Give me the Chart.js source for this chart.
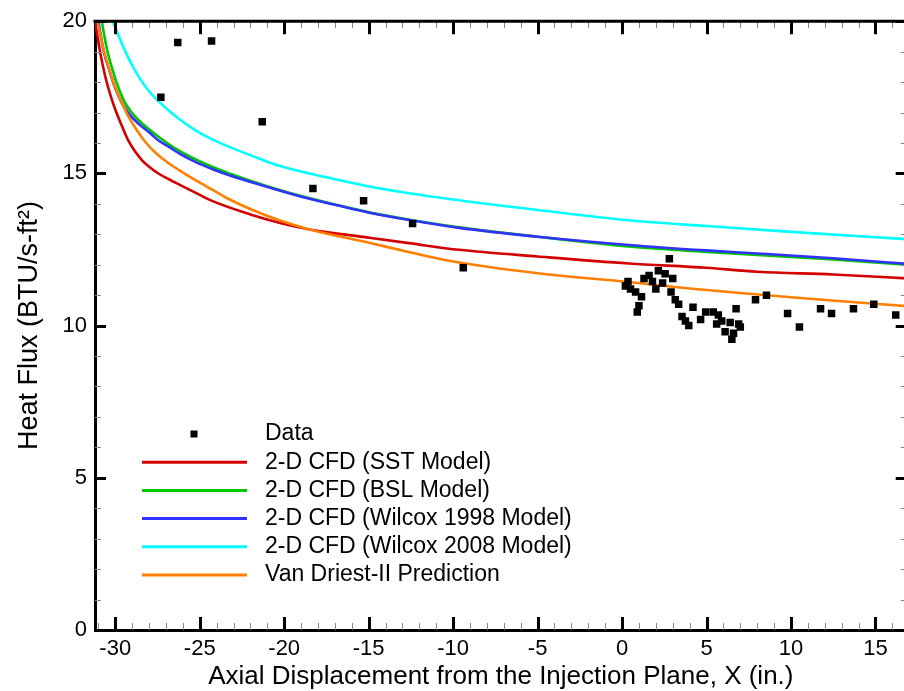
<!DOCTYPE html>
<html>
<head>
<meta charset="utf-8">
<script src="https://cdn.jsdelivr.net/npm/chart.js@4.4.1/dist/chart.umd.min.js"></script>
<style>
  html, body { margin: 0; padding: 0; overflow: hidden; background: #fff; }
  #wrap { position: relative; width: 912px; height: 691px; }
</style>
</head>
<body>
<div id="wrap"><canvas id="c"></canvas></div>
<script>
// ---- Data ----
const dataX = [-27.3,-26.3,-24.3,-21.3,-18.3,-15.3,-12.4,-9.4,
  0.2,0.35,0.5,0.8,0.9,1.0,1.15,1.3,1.6,1.8,
  2.0,2.15,2.4,2.55,2.8,2.9,3.0,3.15,3.35,3.55,
  3.75,3.95,4.2,4.65,4.95,5.4,5.6,5.7,5.9,6.1,
  6.4,6.5,6.6,6.75,6.9,7.0,7.9,8.55,9.8,10.5,
  11.75,12.4,13.7,14.9,16.2];
const dataY = [17.5,19.3,19.35,16.7,14.5,14.1,13.35,11.9,
  11.3,11.45,11.2,11.1,10.45,10.65,10.95,11.55,11.65,11.45,
  11.2,11.8,11.4,11.7,12.2,11.1,11.55,10.85,10.7,10.3,
  10.15,10.0,10.6,10.2,10.45,10.45,10.05,10.35,10.15,9.8,
  10.1,9.55,9.75,10.55,10.05,9.95,10.85,11.0,10.4,9.95,
  10.55,10.4,10.55,10.7,10.35];

const sstX = [-31.2,-30.9,-30.6,-30.3,-30.0,-29.6,-29.2,-28.8,-28.4,-28.0,-27.4,-26.8,-26.2,-25.2,-24.2,-22.0,-20.3,-18.5,-15.0,-12.5,-9.65,-5.0,0.4,5.0,8.0,12.5,16.85];
const sstY = [20.0,19.0,18.2,17.6,17.1,16.55,16.05,15.7,15.42,15.22,14.98,14.8,14.63,14.35,14.08,13.65,13.38,13.16,12.89,12.7,12.49,12.27,12.04,11.9,11.77,11.68,11.55];

const bslX = [-30.8,-30.5,-30.15,-29.8,-29.45,-29.0,-28.57,-28.0,-27.48,-26.8,-26.2,-25.2,-24.2,-23.25,-21.28,-19.1,-17.0,-14.97,-12.5,-9.65,-5.0,0.4,5.0,8.0,12.5,16.85];
const bslY = [20.0,19.1,18.38,17.8,17.35,16.98,16.72,16.45,16.22,15.95,15.74,15.45,15.2,15.0,14.63,14.27,13.98,13.72,13.47,13.23,12.92,12.6,12.42,12.32,12.17,12.0];

const w98X = [-31.0,-30.7,-30.35,-30.0,-29.6,-29.1,-28.6,-28.0,-27.48,-26.8,-26.2,-25.2,-24.2,-23.25,-21.28,-19.1,-17.0,-14.97,-12.5,-9.65,-5.0,0.4,5.0,8.0,12.5,16.85];
const w98Y = [20.0,19.05,18.38,17.8,17.3,16.9,16.62,16.35,16.1,15.86,15.65,15.36,15.13,14.94,14.6,14.25,13.97,13.71,13.46,13.21,12.92,12.65,12.47,12.37,12.21,12.03];

const w08X = [-30.15,-29.8,-29.4,-29.0,-28.5,-28.0,-27.4,-26.8,-26.2,-25.2,-24.2,-23.25,-21.5,-20.29,-17.5,-14.97,-12.5,-10.24,-5.0,0.4,5.0,10.0,16.85];
const w08Y = [20.0,19.52,19.0,18.55,18.08,17.7,17.35,17.05,16.78,16.4,16.1,15.87,15.49,15.25,14.87,14.57,14.34,14.16,13.8,13.46,13.27,13.08,12.84];

const vdX = [-31.05,-30.7,-30.35,-30.0,-29.6,-29.2,-28.7,-28.17,-27.6,-27.0,-26.2,-25.2,-24.2,-23.25,-21.8,-20.29,-18.5,-14.97,-12.5,-10.24,-5.0,0.4,4.0,7.0,10.0,13.0,16.85];
const vdY = [20.0,19.1,18.4,17.82,17.3,16.85,16.4,16.0,15.67,15.4,15.1,14.76,14.45,14.15,13.78,13.46,13.16,12.72,12.4,12.13,11.72,11.43,11.22,11.07,10.93,10.8,10.64];

const seriesLabels = ['Data','2-D CFD (SST Model)','2-D CFD (BSL Model)','2-D CFD (Wilcox 1998 Model)','2-D CFD (Wilcox 2008 Model)','Van Driest-II Prediction'];
const xTitle = 'Axial Displacement from the Injection Plane, X (in.)';
const yTitle = 'Heat Flux (BTU/s-ft\u00B2)';
const xMin = -31.2, xMax = 16.85, yMin = 0, yMax = 20;

// ---- helpers ----
const pts = (xs, ys) => xs.map((x, i) => ({ x: x, y: ys[i] }));
const FONT = '"Liberation Sans", Arial, sans-serif';

const lineDs = (label, xs, ys, color, order) => ({
  label: label, data: pts(xs, ys), showLine: true, borderColor: color,
  backgroundColor: color, borderWidth: 2.6, pointRadius: 0,
  cubicInterpolationMode: 'monotone', order: order
});

// inside tick marks + top/right frame
const frameTicks = {
  id: 'frameTicks',
  afterDatasetsDraw(chart) {
    const { ctx, chartArea: a, scales } = chart;
    const xs = scales.x, ys = scales.y;
    ctx.save();
    ctx.lineCap = 'butt';
    for (let v = Math.ceil(xMin); v <= Math.floor(xMax); v++) {
      const p = Math.round(xs.getPixelForValue(v)) + 0.5;
      const major = v % 5 === 0;
      ctx.lineWidth = major ? 3 : 1;
      ctx.strokeStyle = major ? '#000' : '#888';
      const L = major ? 13 : 7;
      ctx.beginPath();
      ctx.moveTo(p, a.bottom); ctx.lineTo(p, a.bottom - L);
      ctx.moveTo(p, a.top); ctx.lineTo(p, a.top + L);
      ctx.stroke();
    }
    for (let v = yMin; v <= yMax; v++) {
      const p = Math.round(ys.getPixelForValue(v)) + 0.5;
      const major = v % 5 === 0;
      ctx.lineWidth = major ? 3 : 1;
      ctx.strokeStyle = major ? '#000' : '#888';
      const L = major ? 11 : 6;
      ctx.beginPath();
      ctx.moveTo(a.left, p); ctx.lineTo(a.left + L, p);
      ctx.moveTo(a.right, p); ctx.lineTo(a.right - L, p);
      ctx.stroke();
    }
    ctx.lineWidth = 3;
    ctx.strokeStyle = '#000';
    ctx.beginPath();
    ctx.moveTo(a.left - 1.5, a.top); ctx.lineTo(a.right + 1.5, a.top);
    ctx.moveTo(a.right, a.top); ctx.lineTo(a.right, a.bottom);
    ctx.stroke();
    ctx.restore();
  }
};

// legend inside plot area
const insideLegend = {
  id: 'insideLegend',
  afterDraw(chart) {
    const ctx = chart.ctx;
    const ds = chart.data.datasets;
    ctx.save();
    ctx.font = '23px ' + FONT;
    ctx.textBaseline = 'middle';
    ctx.fillStyle = '#000';
    const x0 = 142, x1 = 247, tx = 265, y0 = 434, dy = 28.2;
    ds.forEach((d, i) => {
      const y = y0 + i * dy;
      if (i === 0) {
        ctx.fillStyle = '#000';
        ctx.fillRect(190.5, y - 3.5, 7, 7);
      } else {
        ctx.strokeStyle = d.borderColor;
        ctx.lineWidth = 3;
        ctx.beginPath();
        ctx.moveTo(x0, y); ctx.lineTo(x1, y);
        ctx.stroke();
      }
      ctx.fillStyle = '#000';
      ctx.fillText(d.label, tx, y);
    });
    ctx.restore();
  }
};

new Chart(document.getElementById('c'), {
  type: 'scatter',
  data: {
    datasets: [
      { label: seriesLabels[0], data: pts(dataX, dataY), pointStyle: 'rect',
        pointRadius: 5.3, pointHoverRadius: 5.3, backgroundColor: '#000', borderColor: '#000',
        borderWidth: 0, order: 0 },
      lineDs(seriesLabels[1], sstX, sstY, '#d40000', 5),
      lineDs(seriesLabels[2], bslX, bslY, '#00c800', 4),
      lineDs(seriesLabels[3], w98X, w98Y, '#3232ff', 3),
      lineDs(seriesLabels[4], w08X, w08Y, '#00ffff', 2),
      lineDs(seriesLabels[5], vdX, vdY, '#ff8000', 1)
    ]
  },
  options: {
    responsive: true,
    maintainAspectRatio: false,
    animation: false,
    devicePixelRatio: 1,
    layout: { padding: { top: 17, right: 4, left: 0, bottom: 0 } },
    plugins: { legend: { display: false }, tooltip: { enabled: false } },
    scales: {
      x: {
        type: 'linear', min: xMin, max: xMax,
        afterFit(s) { s.height = 61; },
        border: { display: true, width: 3, color: '#000' },
        grid: { drawOnChartArea: false, drawTicks: false },
        ticks: { stepSize: 5, includeBounds: false, color: '#000', padding: 6,
          font: { family: FONT, size: 22 }, maxRotation: 0 },
        title: { display: true, text: xTitle, color: '#000',
          font: { family: FONT, size: 26, lineHeight: 1.1 }, padding: { top: 0, bottom: 0 } }
      },
      y: {
        type: 'linear', min: yMin, max: yMax,
        afterFit(s) { s.width = 95; },
        border: { display: true, width: 3, color: '#000' },
        grid: { drawOnChartArea: false, drawTicks: false },
        ticks: { stepSize: 5, includeBounds: false, color: '#000', padding: 8,
          font: { family: FONT, size: 22 } },
        title: { display: true, text: yTitle, color: '#000',
          font: { family: FONT, size: 27, lineHeight: 1.1 }, padding: { top: 15, bottom: 0 } }
      }
    }
  },
  plugins: [frameTicks, insideLegend]
});
</script>
</body>
</html>
